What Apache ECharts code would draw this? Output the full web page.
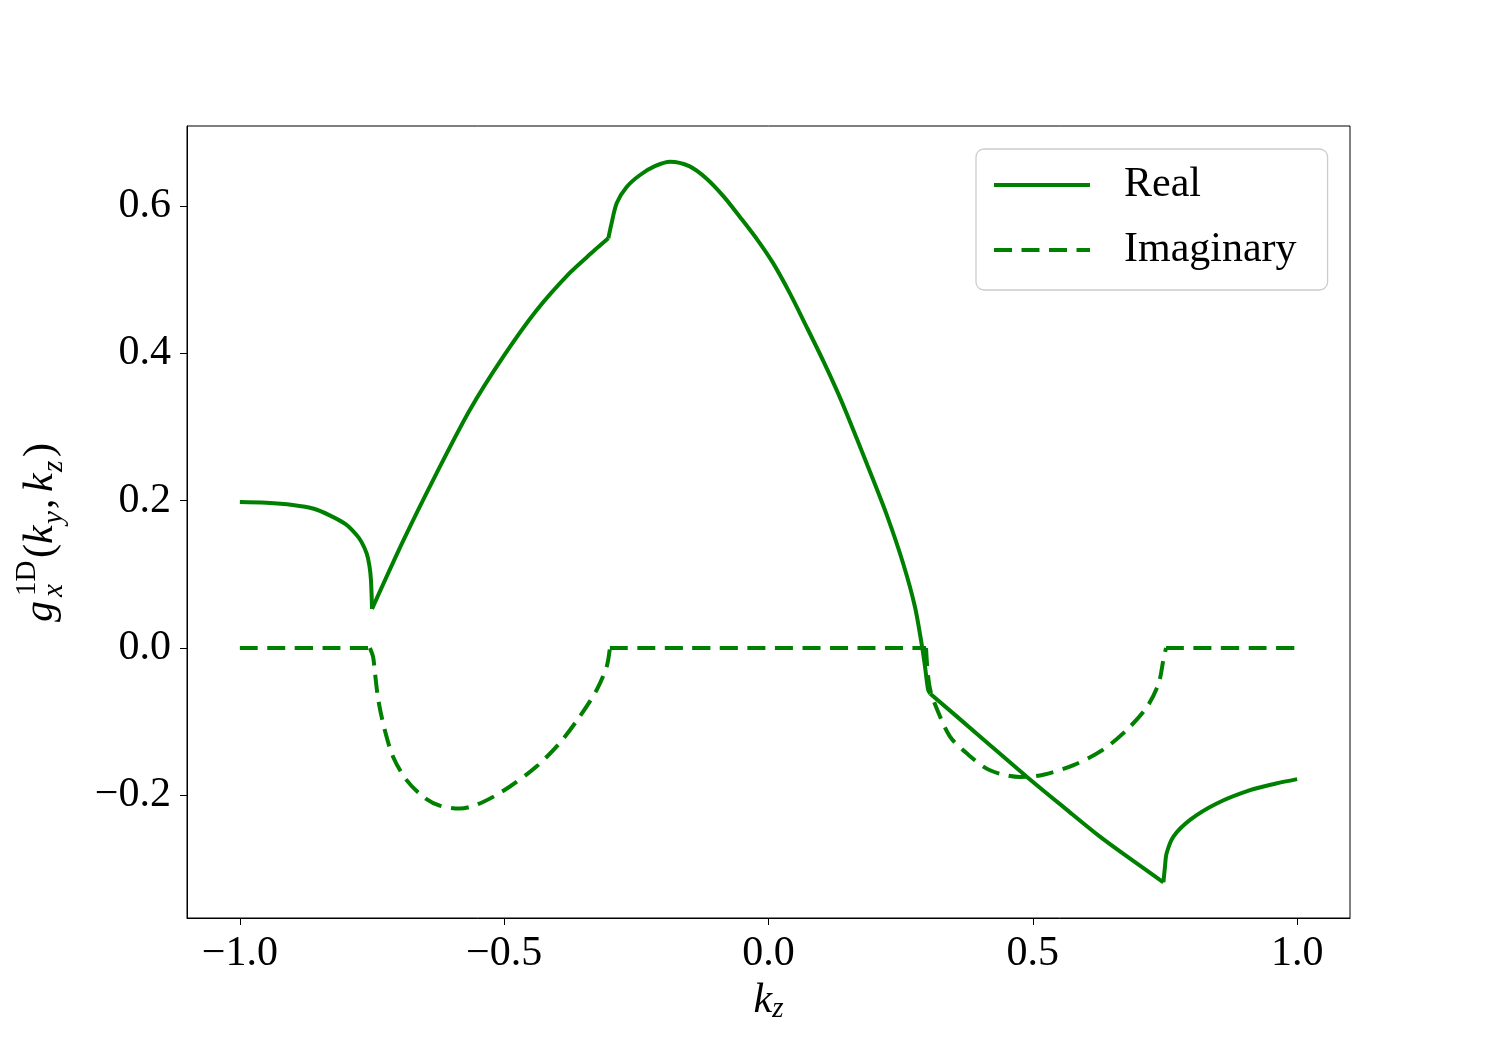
<!DOCTYPE html>
<html>
<head>
<meta charset="utf-8">
<script src="https://cdn.jsdelivr.net/npm/echarts@6/dist/echarts.min.js"></script>
<style>
  html, body { margin: 0; padding: 0; background: #fff; }
  #chart { width: 1500px; height: 1050px; }
</style>
</head>
<body>
<div id="chart"></div>
<script>
// values
var realKz = [-1.0, -0.95, -0.9, -0.86, -0.83, -0.80, -0.78, -0.77, -0.76, -0.755, -0.752, -0.75,
    -0.69, -0.628, -0.565, -0.502, -0.439, -0.376, -0.335, -0.303, -0.297, -0.287, -0.268, -0.243,
    -0.215, -0.186, -0.15, -0.117, -0.085, -0.054, -0.02, 0.009, 0.04, 0.072, 0.104, 0.129, 0.148,
    0.186, 0.224, 0.255, 0.277, 0.29, 0.296, 0.302, 0.306, 0.40, 0.489, 0.56, 0.627, 0.69, 0.747,
    0.75, 0.753, 0.766, 0.798, 0.848, 0.911, 0.96, 1.0];
var realG = [0.198, 0.197, 0.194, 0.189, 0.180, 0.168, 0.154, 0.144, 0.128, 0.112, 0.092, 0.053,
    0.147, 0.237, 0.323, 0.395, 0.458, 0.509, 0.536, 0.556, 0.576, 0.604, 0.626, 0.642,
    0.654, 0.660, 0.654, 0.637, 0.613, 0.585, 0.553, 0.522, 0.482, 0.436, 0.389, 0.350, 0.318,
    0.250, 0.180, 0.114, 0.056, 0.004, -0.025, -0.057, -0.062, -0.120, -0.175, -0.217, -0.256, -0.289, -0.318,
    -0.297, -0.279, -0.256, -0.233, -0.211, -0.193, -0.184, -0.178];
// kinks where the curve is not smooth
var realBreaks = [-0.75, -0.303, 0.306, 0.747];

var imagKz = [-1.0, -0.754, -0.748, -0.745, -0.738, -0.726, -0.710, -0.685, -0.653, -0.622, -0.584,
    -0.540, -0.489, -0.439, -0.395, -0.357, -0.325, -0.306, -0.300, 0.298, 0.301, 0.306, 0.317,
    0.343, 0.375, 0.419, 0.476, 0.520, 0.577, 0.633, 0.678, 0.716, 0.738, 0.747, 0.752, 1.0];
var imagG = [0, 0, -0.012, -0.030, -0.071, -0.111, -0.148, -0.179, -0.202, -0.214, -0.218,
    -0.209, -0.188, -0.161, -0.129, -0.093, -0.057, -0.025, 0, 0, -0.032, -0.057, -0.080,
    -0.120, -0.143, -0.166, -0.175, -0.172, -0.159, -0.138, -0.111, -0.080, -0.048, -0.016, 0, 0];
var imagBreaks = [-0.754, -0.300, 0.298, 0.752];

var xTicks = [-1.0, -0.5, 0.0, 0.5, 1.0];
var yTicks = [-0.2, 0.0, 0.2, 0.4, 0.6];
var seriesNames = ['Real', 'Imaginary'];

var serif = '"Liberation Serif", "DejaVu Serif", serif';
var green = '#008000';

// cut a curve into pieces at its kinks so each piece can be smoothed on its own
function segments(xs, ys, breaks) {
    var segs = [], cur = [];
    xs.forEach(function (x, i) {
        cur.push([x, ys[i]]);
        if (breaks.indexOf(x) >= 0 && cur.length > 1) {
            segs.push(cur);
            cur = [[x, ys[i]]];
        }
    });
    if (cur.length > 1) segs.push(cur);
    return segs;
}
function tickFmt(v) {
    return v.toFixed(1).replace('-', '\u2212');
}
function mathFont(size, italic) {
    return (italic ? 'italic ' : '') + size + 'px ' + serif;
}
function glyph(text, x, y, size, italic) {
    return {
        type: 'text', x: x, y: y,
        style: {text: text, font: mathFont(size, italic), fill: '#000', align: 'left', verticalAlign: 'middle'}
    };
}

var series = [];
segments(realKz, realG, realBreaks).forEach(function (seg) {
    series.push({
        name: seriesNames[0], type: 'line', data: seg,
        symbol: 'none', smooth: 0.3,
        lineStyle: {color: green, width: 4, join: 'round'},
        itemStyle: {color: green}
    });
});
segments(imagKz, imagG, imagBreaks).forEach(function (seg) {
    series.push({
        name: seriesNames[1], type: 'line', data: seg,
        symbol: 'none', smooth: 0.3,
        lineStyle: {color: green, width: 4, type: [18, 9.5], cap: 'butt'},
        itemStyle: {color: green}
    });
});

var chart = echarts.init(document.getElementById('chart'), null, {renderer: 'canvas'});
var option = {
    animation: false,
    backgroundColor: '#fff',
    grid: {
        left: 187, right: 150, top: 126, bottom: 132,
        show: true, borderColor: '#000', borderWidth: 1
    },
    legend: {
        data: seriesNames,
        orient: 'vertical',
        left: 976, top: 149,
        padding: [15, 31, 19, 16],
        itemWidth: 96, itemHeight: 14, itemGap: 23,
        backgroundColor: 'rgba(255,255,255,0.8)',
        borderColor: '#cccccc', borderWidth: 1.3, borderRadius: 8,
        itemStyle: {color: 'rgba(0,0,0,0)', borderColor: 'rgba(0,0,0,0)', borderWidth: 0},
        lineStyle: {width: 4},
        textStyle: {fontFamily: serif, fontSize: 42, color: '#000', padding: [0, 0, 0, 29]}
    },
    xAxis: {
        type: 'value',
        min: -1.1, max: 1.1,
        name: '{k|k}{s|z}',
        nameLocation: 'middle',
        nameGap: 48,
        nameTextStyle: {
            rich: {
                k: {fontFamily: serif, fontStyle: 'italic', fontSize: 42, lineHeight: 46, color: '#000'},
                s: {fontFamily: serif, fontStyle: 'italic', fontSize: 29, lineHeight: 20, verticalAlign: 'bottom', color: '#000'}
            }
        },
        axisLine: {show: true, onZero: false, lineStyle: {color: '#000', width: 1}},
        axisTick: {show: true, inside: false, length: 7, customValues: xTicks, lineStyle: {color: '#000', width: 1}},
        axisLabel: {
            customValues: xTicks, margin: 15, color: '#000',
            fontFamily: serif, fontSize: 42, formatter: tickFmt
        },
        splitLine: {show: false}
    },
    yAxis: {
        type: 'value',
        min: -0.3665, max: 0.7085,
        axisLine: {show: true, onZero: false, lineStyle: {color: '#000', width: 1}},
        axisTick: {show: true, inside: false, length: 7, customValues: yTicks, lineStyle: {color: '#000', width: 1}},
        axisLabel: {
            customValues: yTicks, margin: 16, color: '#000',
            fontFamily: serif, fontSize: 42, formatter: tickFmt
        },
        splitLine: {show: false}
    },
    // y axis title g_x^{1D}(k_y, k_z), read bottom to top
    graphic: [{
        type: 'group',
        x: 55, y: 622,
        rotation: Math.PI / 2,
        children: [
            glyph('g', 0, -14, 42, true),
            glyph('x', 25, -1, 29, true),
            glyph('1D', 26, -28, 29, false),
            glyph('(', 64, -14, 42, false),
            glyph('k', 78, -14, 42, true),
            glyph('y', 98, -1, 29, true),
            glyph(',', 113, -14, 42, false),
            glyph('k', 130, -14, 42, true),
            glyph('z', 150, -1, 29, true),
            glyph(')', 165, -14, 42, false)
        ]
    }],
    series: series
};
chart.setOption(option);
</script>
</body>
</html>
